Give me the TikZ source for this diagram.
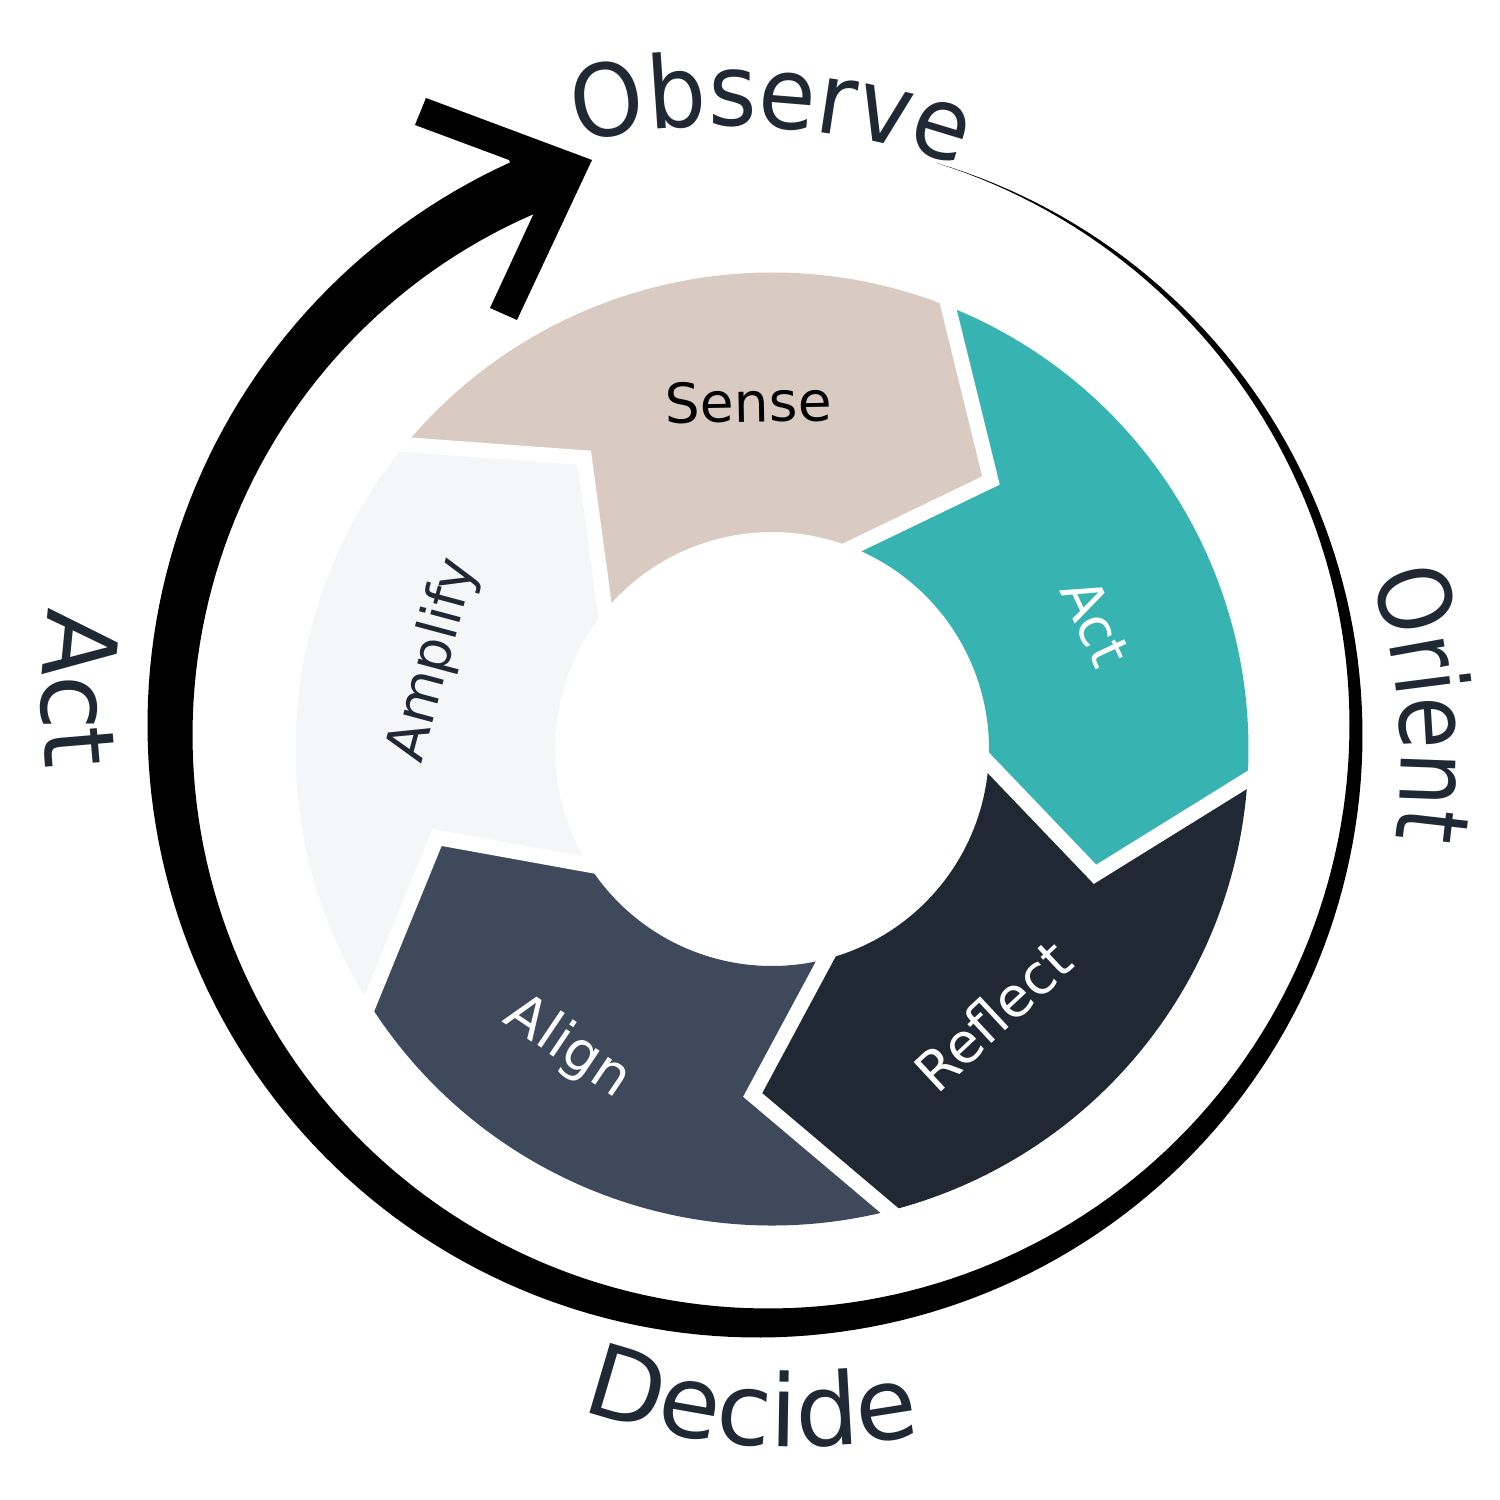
\documentclass[tikz,border=0pt]{standalone}
\usepackage{fontspec}
\setmainfont{DejaVu Sans}
\newfontfamily\obsfont[FakeStretch=0.93]{DejaVu Sans}
\newfontfamily\orifont[FakeStretch=0.85]{DejaVu Sans}
\newfontfamily\plainlbl{DejaVu Sans}
\usetikzlibrary{decorations.text,calc}
\definecolor{segtan}{HTML}{D9CBC2}
\definecolor{segteal}{HTML}{37B4B1}
\definecolor{segnavy}{HTML}{1F2833}
\definecolor{segslate}{HTML}{3E4A5B}
\definecolor{seglight}{HTML}{F5F6F8}
\definecolor{labeldark}{HTML}{1F2833}
\newcommand\ringseg[3]{%
  \fill[#1] (#2:476.5pt) arc[start angle=#2, end angle=#3, radius=476.5pt]
    -- ({#3-17.5}:346.5pt) -- (#3:217pt)
    arc[start angle=#3, end angle=#2, radius=217pt]
    -- ({#2-17.5}:346.5pt) -- cycle;}
\tikzset{
  seglbl/.style={font=\plainlbl\fontsize{55}{66}\selectfont, inner sep=0pt},
  gapline/.style={white, line width=15pt, line join=miter},
}
\begin{document}
\begin{tikzpicture}[x=1pt,y=1pt]
\useasboundingbox (-772,-751) rectangle (728,749);
% ring segments
\ringseg{segtan}{140.3}{68.3}
\ringseg{segteal}{68.3}{-3.7}
\ringseg{segnavy}{-3.7}{-75.7}
\ringseg{segslate}{-75.7}{-147.7}
\ringseg{seglight}{-147.7}{-219.7}
% white gaps
\foreach \b in {140.3,68.3,-3.7,-75.7,-147.7}{
  \draw[gapline] ($({\b-17.5}:346.5pt)!1.12!(\b:476.5pt)$) -- ({\b-17.5}:346.5pt) -- ($({\b-17.5}:346.5pt)!1.15!(\b:217pt)$);
}
% tapered outer stroke (extends slightly into the arrow head)
\fill[black] plot[domain=0:322, samples=220, variable=\t]
   ({-9+(593+0.089*\t)*cos(73-\t)}, {19+(593+0.089*\t)*sin(73-\t)})
 -- plot[domain=0:322, samples=220, variable=\s]
   ({-9+(593-0.089*(322-\s))*cos(-249+\s)}, {19+(593-0.089*(322-\s))*sin(-249+\s)})
 -- cycle;
% arrow head
\fill[black] (-346,651) -- (-180,589) -- (-255,429) -- (-282,441) -- (-238,536) -- (-263,589) -- (-357,624) -- cycle;
% outer labels
\path[decorate, decoration={text along path, text align=center, text color=labeldark,
  text={|\obsfont\fontsize{100}{120}\selectfont|Observe}}]
  ($(-45,-83)+(116.5:706pt)$) arc[start angle=116.5, end angle=56.5, radius=706pt];
\path[decorate, decoration={text along path, text align=center, text color=labeldark,
  text={|\orifont\fontsize{100}{120}\selectfont|Orient}}]
  ($(72,-9)+(35.36:557pt)$) arc[start angle=35.36, end angle=-24.64, radius=557pt];
\path[decorate, decoration={text along path, text align=center, text color=labeldark,
  text={|\plainlbl\fontsize{100}{120}\selectfont|Decide}}]
  ($(22,-74)+(-124.1:624pt)$) arc[start angle=-124.1, end angle=-64.1, radius=624pt];
\path[decorate, decoration={text along path, text align=center, text color=labeldark,
  text={|\plainlbl\fontsize{100}{120}\selectfont|Act}}]
  ($(-130,49)+(148.9:600pt)$) arc[start angle=148.9, end angle=208.9, radius=600pt];
% segment labels
\node[seglbl, text=black, rotate=1] (sense) at (-23.5,347) {Sense};
\node[seglbl, text=white, rotate=-65] (actin) at (324,126.5) {Act};
\node[seglbl, text=white, rotate=43] (reflect) at (220.5,-266.5) {Reflect};
\node[seglbl, text=white, rotate=-34] (align) at (-204.5,-298.5) {Align};
\node[seglbl, text=labeldark, rotate=75] (amplify) at (-338,89) {Amplify};
\end{tikzpicture}
\end{document}
